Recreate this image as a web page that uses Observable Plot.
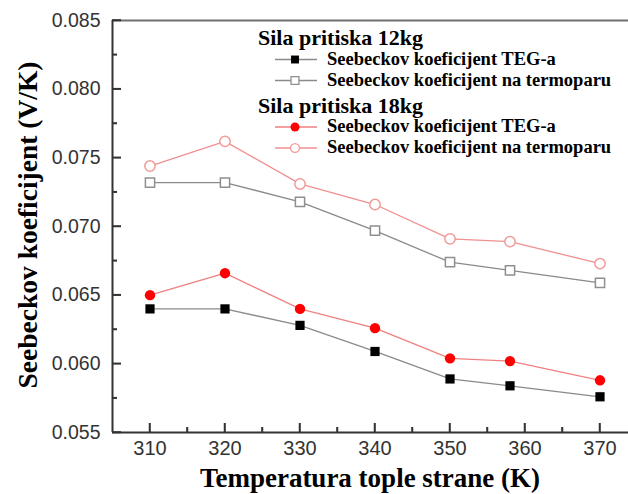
<!DOCTYPE html>
<html><head><meta charset="utf-8">
<script src="https://cdn.jsdelivr.net/npm/d3@7"></script>
<script src="https://cdn.jsdelivr.net/npm/@observablehq/plot@0.6"></script>
<style>
body{margin:0;background:#fff}
</style></head><body><div id="chart"></div>
<script>
const temperatures = [310, 320, 330, 340, 350, 358, 370];
const teg12 = [0.0640, 0.0640, 0.0628, 0.0609, 0.0589, 0.0584, 0.0576];
const thermo12 = [0.0732, 0.0732, 0.0718, 0.0697, 0.0674, 0.0668, 0.0659];
const teg18 = [0.0650, 0.0666, 0.0640, 0.0626, 0.0604, 0.0602, 0.0588];
const thermo18 = [0.0744, 0.0762, 0.0731, 0.0716, 0.0691, 0.0689, 0.0673];
const xTicks = [310, 320, 330, 340, 350, 360, 370];
const xMinorTicks = [315, 325, 335, 345, 355, 365];
const yTicks = [0.055, 0.060, 0.065, 0.070, 0.075, 0.080, 0.085];
const yMinorTicks = [0.0575, 0.0625, 0.0675, 0.0725, 0.0775, 0.0825];
const xTitle = "Temperatura tople strane (K)";
const yTitle = "Seebeckov koeficijent (V/K)";
const groupTitles = ["Sila pritiska 12kg", "Sila pritiska 18kg"];
const seriesNames = ["Seebeckov koeficijent TEG-a", "Seebeckov koeficijent na termoparu"];

const series = [
  {values: thermo12, line: "#8a8a8a", symbol: "square", fill: "white", stroke: "#8f8f8f"},
  {values: teg12, line: "#8a8a8a", symbol: "square", fill: "black", stroke: "none"},
  {values: thermo18, line: "#f09090", symbol: "circle", fill: "white", stroke: "#f29a9a"},
  {values: teg18, line: "#f08080", symbol: "circle", fill: "#ff0000", stroke: "none"}
];

const marks = [
  Plot.ruleY([0.085], {stroke: "#6f6f6f", strokeWidth: 2}),
  Plot.axisX(xMinorTicks, {tickSize: 5, dy: -5, tickFormat: () => "", label: null, color: "#333", strokeWidth: 1.5}),
  Plot.axisY(yMinorTicks, {tickSize: 5, dx: 5, tickFormat: () => "", label: null, color: "#333", strokeWidth: 1.5}),
  Plot.axisX(xTicks, {tickSize: 9, dy: -9, tickFormat: () => "", label: null, color: "#333", strokeWidth: 1.5}),
  Plot.axisY(yTicks, {tickSize: 9, dx: 9, tickFormat: () => "", label: null, color: "#333", strokeWidth: 1.5}),
  Plot.axisX(xTicks, {tickSize: 0, tickPadding: 8, fontSize: 20, tickFormat: d => String(d), label: null, color: "#333"}),
  Plot.axisY(yTicks, {tickSize: 0, tickPadding: 12, fontSize: 19.5, tickFormat: d3.format(".3f"), label: null, color: "#333"}),
  Plot.ruleY([0.055], {stroke: "#333", strokeWidth: 2}),
  Plot.ruleX([305], {stroke: "#333", strokeWidth: 2})
];
for (const s of series) {
  marks.push(Plot.line(temperatures, {x: d => d, y: (d, i) => s.values[i], stroke: s.line, strokeWidth: 1.3}));
}
for (const s of series) {
  marks.push(Plot.dot(temperatures, {x: d => d, y: (d, i) => s.values[i], symbol: s.symbol, r: 5.2, fill: s.fill, stroke: s.stroke, strokeWidth: 1.5}));
}

const plot = Plot.plot({
  width: 628, height: 494,
  marginLeft: 112, marginRight: 0, marginTop: 20, marginBottom: 62,
  x: {domain: [305, 373.8]},
  y: {domain: [0.055, 0.085]},
  style: {background: "white", fontFamily: "'Liberation Sans', Arial, sans-serif", overflow: "visible"},
  marks
});
document.getElementById("chart").appendChild(plot);

const svg = d3.select(plot);

// inward ticks, placed through Plot's own scales
try {
  const xs = plot.scale("x"), ys = plot.scale("y");
  const x0 = xs.apply(305), y0 = ys.apply(0.055);
  const tg = svg.append("g").attr("stroke", "#333").attr("stroke-width", 1.5);
  for (const t of xTicks) { const px = xs.apply(t); tg.append("line").attr("x1", px).attr("x2", px).attr("y1", y0).attr("y2", y0 - 9); }
  for (const t of xMinorTicks) { const px = xs.apply(t); tg.append("line").attr("x1", px).attr("x2", px).attr("y1", y0).attr("y2", y0 - 5); }
  for (const t of yTicks) { const py = ys.apply(t); tg.append("line").attr("x1", x0).attr("x2", x0 + 9).attr("y1", py).attr("y2", py); }
  for (const t of yMinorTicks) { const py = ys.apply(t); tg.append("line").attr("x1", x0).attr("x2", x0 + 5).attr("y1", py).attr("y2", py); }
} catch (e) {}

const serif = "'Liberation Serif', 'Times New Roman', serif";
svg.append("text").attr("x", 370).attr("y", 487).attr("text-anchor", "middle")
  .style("font", `bold 27px ${serif}`).attr("fill", "#000").text(xTitle);
svg.append("text").attr("transform", "translate(37,225) rotate(-90)").attr("text-anchor", "middle")
  .style("font", `bold 27.5px ${serif}`).attr("fill", "#000").text(yTitle);

// legend
const lg = svg.append("g").attr("text-anchor", "start");
const groups = [
  {title: groupTitles[0], ty: 45, items: [series[1], series[0]], ys: [59.5, 80.5]},
  {title: groupTitles[1], ty: 113, items: [series[3], series[2]], ys: [127, 148]}
];
for (const g of groups) {
  lg.append("text").attr("x", 258).attr("y", g.ty).attr("text-anchor", "start")
    .style("font", `bold 22px ${serif}`).attr("fill", "#000").text(g.title);
  g.items.forEach((s, k) => {
    const y = g.ys[k];
    lg.append("line").attr("x1", 275).attr("x2", 317).attr("y1", y).attr("y2", y)
      .attr("stroke", s.line).attr("stroke-width", 1.3);
    const sym = d3.symbol(s.symbol === "square" ? d3.symbolSquare : d3.symbolCircle, 5 * 5 * Math.PI * 0.8);
    lg.append("path").attr("d", sym()).attr("transform", `translate(295,${y})`)
      .attr("fill", s.fill).attr("stroke", s.stroke).attr("stroke-width", 1.3);
    lg.append("text").attr("x", 327).attr("y", y + 5).attr("text-anchor", "start")
      .style("font", `bold 18.5px ${serif}`).attr("fill", "#000").text(seriesNames[k]);
  });
}
</script></body></html>
